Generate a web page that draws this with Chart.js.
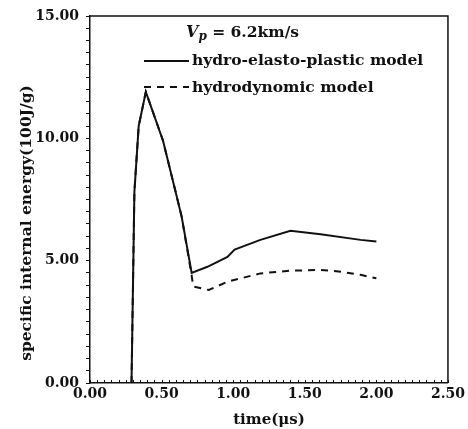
<!DOCTYPE html>
<html>
<head>
<meta charset="utf-8">
<script src="https://cdn.jsdelivr.net/npm/chart.js@4.4.0/dist/chart.umd.min.js"></script>
<style>
  html, body { margin: 0; padding: 0; background: #fff; }
  #wrap { width: 468px; height: 429px; position: relative; }
</style>
</head>
<body>
<div id="wrap"><canvas id="chart"></canvas></div>
<script>
// values: time in us, specific internal energy in 100J/g
const timeElastoPlastic = [0.29, 0.31, 0.34, 0.39, 0.51, 0.59, 0.64, 0.71, 0.82, 0.96, 1.01, 1.19, 1.40, 1.61, 1.89, 2.00];
const energyElastoPlastic = [0, 7.8, 10.5, 11.9, 9.9, 8.0, 6.8, 4.5, 4.75, 5.15, 5.45, 5.85, 6.22, 6.08, 5.85, 5.78];

const timeHydro = [0.29, 0.31, 0.34, 0.39, 0.51, 0.59, 0.64, 0.71, 0.72, 0.83, 0.96, 1.19, 1.40, 1.61, 1.75, 1.89, 2.00];
const energyHydro = [0, 7.8, 10.5, 11.9, 9.9, 8.0, 6.8, 4.4, 3.95, 3.8, 4.14, 4.48, 4.59, 4.62, 4.55, 4.42, 4.28];

const seriesNames = ["hydro-elasto-plastic model", "hydrodynomic model"];
const xTicks = [0, 0.5, 1.0, 1.5, 2.0, 2.5];
const yTicks = [0, 5, 10, 15];
const xMinorStep = 0.05;
const yMinorStep = 0.5;
const xTitle = "time(\u03bcs)";
const yTitle = "specific internal energy(100J/g)";

const ink = "#111";
const serif = "'DejaVu Serif', 'Liberation Serif', serif";

function toPoints(xs, ys) {
    return xs.map((x, i) => ({ x: x, y: ys[i] }));
}

// frame, inward minor ticks on the time axis, y title and the in-plot legend
const decorations = {
    id: "decorations",
    afterDraw(chart) {
        const ctx = chart.ctx;
        const area = chart.chartArea;
        const xs = chart.scales.x;

        ctx.save();
        ctx.strokeStyle = ink;
        ctx.lineWidth = 1.5;
        ctx.beginPath();
        ctx.moveTo(area.left, area.top);
        ctx.lineTo(area.right, area.top);
        ctx.lineTo(area.right, area.bottom);
        ctx.stroke();

        ctx.lineWidth = 1;
        ctx.beginPath();
        for (let v = xs.min; v <= xs.max + 1e-9; v += xMinorStep) {
            const px = Math.round(xs.getPixelForValue(v)) + 0.5;
            ctx.moveTo(px, area.bottom);
            ctx.lineTo(px, area.bottom - 3);
        }
        ctx.stroke();

        // y title, rotated
        ctx.fillStyle = ink;
        ctx.font = "bold 15.5px " + serif;
        ctx.textAlign = "center";
        ctx.textBaseline = "middle";
        ctx.translate(27, 223);
        ctx.rotate(-Math.PI / 2);
        ctx.fillText(yTitle, 0, 0);
        ctx.restore();

        // velocity note
        ctx.save();
        ctx.fillStyle = ink;
        ctx.textBaseline = "alphabetic";
        let x = 186;
        ctx.font = "italic bold 16px " + serif;
        ctx.fillText("V", x, 37);
        x += ctx.measureText("V").width;
        ctx.font = "italic bold 12px " + serif;
        ctx.fillText("p", x, 40);
        x += ctx.measureText("p").width;
        ctx.font = "bold 15.5px " + serif;
        ctx.fillText(" = 6.2km/s", x, 37);

        // legend rows
        const rows = [{ y: 61, base: 65 }, { y: 87, base: 92 }];
        chart.data.datasets.forEach((ds, i) => {
            ctx.strokeStyle = ds.borderColor;
            ctx.lineWidth = ds.borderWidth;
            ctx.setLineDash(ds.borderDash || []);
            ctx.beginPath();
            ctx.moveTo(144, rows[i].y);
            ctx.lineTo(189, rows[i].y);
            ctx.stroke();
            ctx.setLineDash([]);
            ctx.font = "bold 15.5px " + serif;
            ctx.fillText(ds.label, 192, rows[i].base);
        });
        ctx.restore();
    }
};

new Chart(document.getElementById("chart"), {
    type: "line",
    data: {
        datasets: [
            {
                label: seriesNames[0],
                data: toPoints(timeElastoPlastic, energyElastoPlastic),
                borderColor: ink,
                borderWidth: 2,
                pointRadius: 0,
                tension: 0,
                fill: false
            },
            {
                label: seriesNames[1],
                data: toPoints(timeHydro, energyHydro),
                borderColor: ink,
                borderWidth: 2,
                borderDash: [7, 6],
                pointRadius: 0,
                tension: 0,
                fill: false
            }
        ]
    },
    options: {
        responsive: true,
        maintainAspectRatio: false,
        animation: false,
        layout: { padding: { top: 16, right: 19, bottom: 0, left: 0 } },
        plugins: {
            legend: { display: false },
            tooltip: { enabled: false }
        },
        scales: {
            x: {
                type: "linear",
                min: 0,
                max: 2.5,
                afterBuildTicks: (scale) => { scale.ticks = xTicks.map(v => ({ value: v })); },
                afterFit: (scale) => { scale.height = 46; },
                ticks: {
                    color: ink,
                    font: { family: serif, size: 14, weight: "bold" },
                    padding: 3,
                    maxRotation: 0,
                    callback: (v) => Number(v).toFixed(2)
                },
                grid: { drawOnChartArea: false, drawTicks: false },
                border: { color: ink, width: 1.5 },
                title: {
                    display: true,
                    text: xTitle,
                    color: ink,
                    font: { family: serif, size: 15, weight: "bold", lineHeight: 1.2 },
                    padding: { top: 0, bottom: 0 }
                }
            },
            y: {
                min: 0,
                max: 15,
                afterFit: (scale) => { scale.width = 90; },
                ticks: {
                    stepSize: yMinorStep,
                    autoSkip: false,
                    color: ink,
                    font: { family: serif, size: 14, weight: "bold" },
                    padding: 7,
                    callback: (v) => yTicks.includes(v) ? Number(v).toFixed(2) : ""
                },
                grid: { drawOnChartArea: false, tickLength: 4, color: ink, lineWidth: 1 },
                border: { color: ink, width: 1.5 }
            }
        }
    },
    plugins: [decorations]
});
</script>
</body>
</html>
